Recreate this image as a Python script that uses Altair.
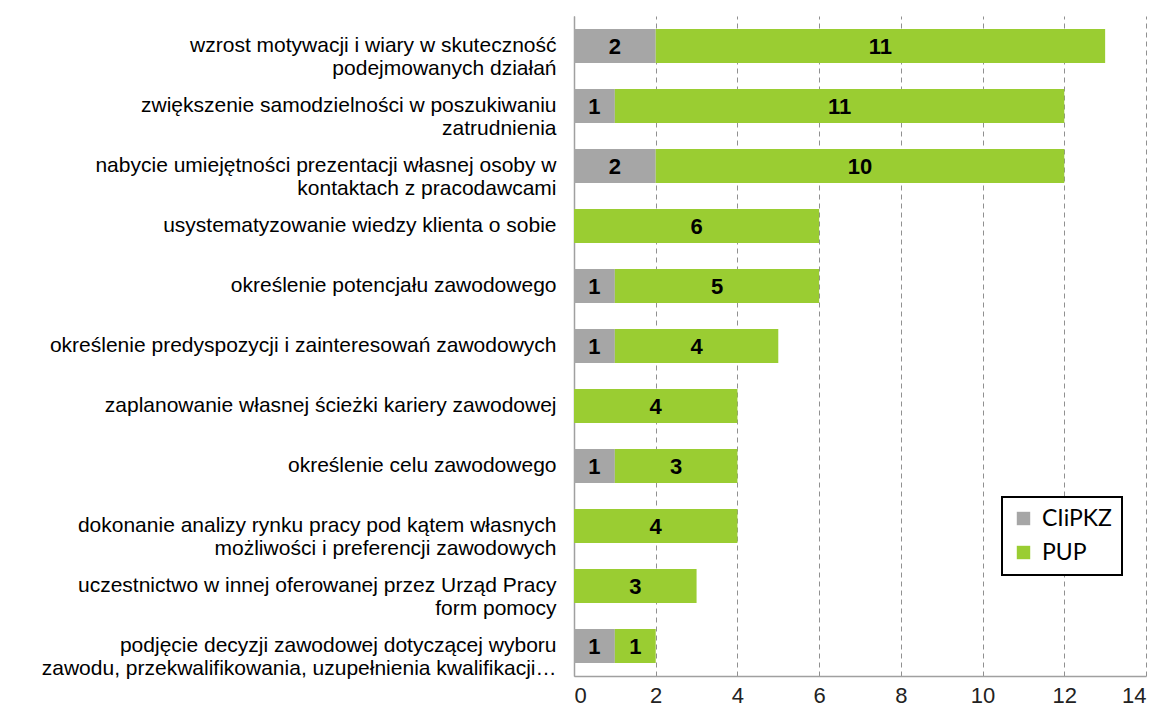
import altair as alt
import pandas as pd

categories = [
    "wzrost motywacji i wiary w skuteczność|podejmowanych działań",
    "zwiększenie samodzielności w poszukiwaniu|zatrudnienia",
    "nabycie umiejętności prezentacji własnej osoby w|kontaktach z pracodawcami",
    "usystematyzowanie wiedzy klienta o sobie",
    "określenie potencjału zawodowego",
    "określenie predyspozycji i zainteresowań zawodowych",
    "zaplanowanie własnej ścieżki kariery zawodowej",
    "określenie celu zawodowego",
    "dokonanie analizy rynku pracy pod kątem własnych|możliwości i preferencji zawodowych",
    "uczestnictwo w innej oferowanej przez Urząd Pracy|form pomocy",
    "podjęcie decyzji zawodowej dotyczącej wyboru|zawodu, przekwalifikowania, uzupełnienia kwalifikacji…",
]
ciipkz = [2, 1, 2, 0, 1, 1, 0, 1, 0, 0, 1]
pup = [11, 11, 10, 6, 5, 4, 4, 3, 4, 3, 1]
series = ["CIiPKZ", "PUP"]
colors = ["#A6A6A6", "#9ACD32"]
x_ticks = [0, 2, 4, 6, 8, 10, 12, 14]

rows = []
for c, a, b in zip(categories, ciipkz, pup):
    rows.append({"cat": c, "series": series[0], "start": 0, "end": a, "value": a, "order": 0})
    rows.append({"cat": c, "series": series[1], "start": a, "end": a + b, "value": b, "order": 1})
df = pd.DataFrame(rows)
df["mid"] = (df["start"] + df["end"]) / 2
df["lbl"] = df["value"].astype(str)

y_enc = alt.Y(
    "cat:N",
    sort=categories,
    title=None,
    scale=alt.Scale(paddingInner=0.43, paddingOuter=0.215),
    axis=alt.Axis(
        labelExpr="split(datum.label, '|')",
        labelFont="Liberation Sans",
        labelFontSize=21,
        labelColor="#000000",
        labelPadding=18,
        labelLimit=600,
        labelLineHeight=23,
        ticks=False,
        domainColor="#A0A0A0",
        domainWidth=1.5,
        grid=False,
    ),
)

x_scale = alt.Scale(domain=[0, 14], nice=False)

bars = alt.Chart(df).mark_bar(size=34).encode(
    y=y_enc,
    x=alt.X(
        "start:Q",
        scale=x_scale,
        title=None,
        axis=alt.Axis(
            values=x_ticks,
            labelFont="Liberation Sans",
            labelFontSize=22,
            labelColor="#222222",
            labelPadding=9,
            ticks=False,
            domainColor="#A0A0A0",
            domainWidth=1.5,
            grid=True,
            gridColor="#909090",
            gridDash=[5, 4],
            gridWidth=1,
        ),
    ),
    x2="end:Q",
    color=alt.Color(
        "series:N",
        scale=alt.Scale(domain=series, range=colors),
        title=None,
        legend=alt.Legend(
            orient="none",
            legendX=428,
            legendY=481,
            padding=10,
            strokeColor="#000000",
            fillColor="#ffffff",
            symbolType="square",
            symbolSize=180,
            symbolStrokeWidth=0,
            labelFont="Lato",
            labelFontSize=23,
            labelColor="#000000",
            rowPadding=10,
            labelOffset=7,
        ),
    ),
    order=alt.Order("order:Q"),
)

texts = alt.Chart(df).transform_filter("datum.value > 0").mark_text(
    font="Liberation Sans", fontSize=22, fontWeight="bold", color="#000000", baseline="middle", dy=1
).encode(
    y=alt.Y("cat:N", sort=categories),
    x=alt.X("mid:Q", scale=x_scale),
    text="lbl:N",
)

chart = (
    alt.layer(bars, texts)
    .properties(width=572, height=660, autosize=alt.AutoSizeParams(type="none"),
                padding={"left": 566, "top": 8, "right": 10, "bottom": 34})
    .configure(background="#ffffff")
    .configure_view(stroke="transparent", strokeWidth=0)
    .configure_legend(strokeWidth=2)
)

chart.save("out.html", embed_options={"renderer": "svg", "actions": False})
